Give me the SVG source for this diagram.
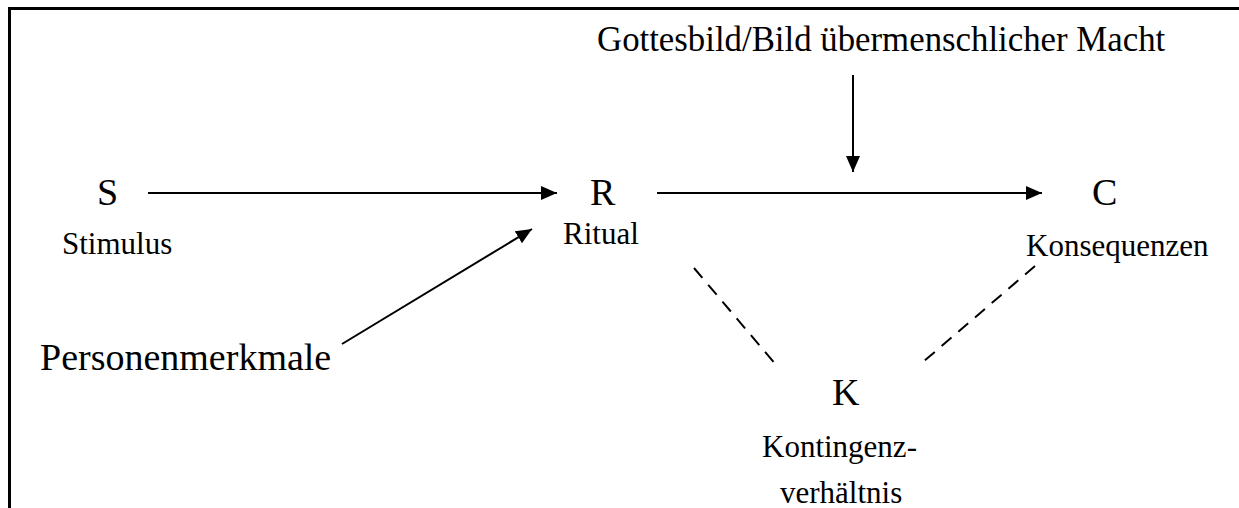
<svg xmlns="http://www.w3.org/2000/svg" width="1239" height="508" viewBox="0 0 1239 508">
  <style>
    text { font-family: "Liberation Serif", "Times New Roman", serif; fill: #000; }
    .big { font-size: 38px; }
    .lbl { font-size: 31px; }
    .edge { stroke: #000; stroke-width: 2; fill: none; }
    .dash { stroke-dasharray: 13 9; }
    .frame { stroke: #000; stroke-width: 3; fill: none; }
  </style>
  <defs>
    <marker id="arrow" viewBox="0 0 16 14" refX="16" refY="7" markerWidth="16" markerHeight="14" markerUnits="userSpaceOnUse" orient="auto">
      <path d="M0,0 L16,7 L0,14 Z" fill="#000"/>
    </marker>
  </defs>
  <rect width="1239" height="508" fill="#fff"/>

  <!-- frame: top and left edges only -->
  <path class="frame" d="M9.5,508 V8.5 H1239"/>

  <g id="connectors">
    <line class="edge" x1="148" y1="193" x2="557" y2="193" marker-end="url(#arrow)"/>
    <line class="edge" x1="657" y1="193" x2="1042" y2="193" marker-end="url(#arrow)"/>
    <line class="edge" x1="853" y1="75" x2="853" y2="172" marker-end="url(#arrow)"/>
    <line class="edge" x1="342" y1="344" x2="532" y2="229" marker-end="url(#arrow)"/>
    <line class="edge dash" x1="694" y1="268" x2="777" y2="366"/>
    <line class="edge dash" x1="1035" y1="266" x2="923" y2="362"/>
  </g>

  <g id="node-gottesbild">
    <text class="lbl" x="597" y="51" style="font-size:34.8px">Gottesbild/Bild übermenschlicher Macht</text>
  </g>
  <g id="node-s">
    <text class="big" x="97" y="205">S</text>
    <text class="lbl" x="62" y="254">Stimulus</text>
  </g>
  <g id="node-r">
    <text class="big" x="590" y="205">R</text>
    <text class="lbl" x="563" y="244">Ritual</text>
  </g>
  <g id="node-c">
    <text class="big" x="1092" y="205">C</text>
    <text class="lbl" x="1026" y="256">Konsequenzen</text>
  </g>
  <g id="node-k">
    <text class="big" x="832" y="405">K</text>
    <text class="lbl" x="762" y="457">Kontingenz-</text>
    <text class="lbl" x="780" y="503">verhältnis</text>
  </g>
  <g id="node-personenmerkmale">
    <text class="big" x="40" y="370">Personenmerkmale</text>
  </g>
</svg>
